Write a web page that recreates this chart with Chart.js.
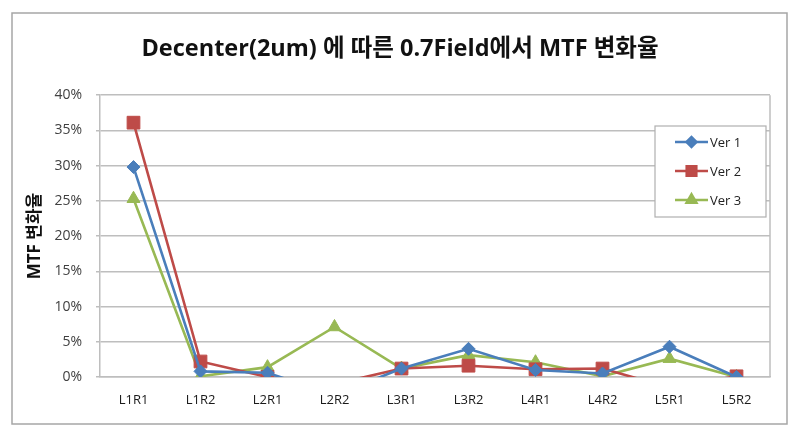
<!DOCTYPE html>
<html>
<head>
<meta charset="utf-8">
<script src="https://cdn.jsdelivr.net/npm/chart.js@4"></script>
<style>
  html, body { margin: 0; padding: 0; background: #fff; }
  #wrap { width: 797px; height: 432px; position: relative; }
</style>
</head>
<body>
<div id="wrap"><canvas id="mtf-chart"></canvas></div>
<script>
/* ===== MTF change vs decenter ===== */

const categories = ['L1R1', 'L1R2', 'L2R1', 'L2R2', 'L3R1', 'L3R2', 'L4R1', 'L4R2', 'L5R1', 'L5R2'];

// values in percent
const ver1 = [29.8, 0.8, 0.6, -2.6, 1.2, 4.0, 1.0, 0.5, 4.3, 0.0];
const ver2 = [36.1, 2.2, 0.0, -1.0, 1.2, 1.6, 1.1, 1.2, -1.5, 0.1];
const ver3 = [25.3, 0.1, 1.4, 7.1, 1.2, 3.1, 2.1, 0.1, 2.6, 0.0];

const yTicks = [0, 5, 10, 15, 20, 25, 30, 35, 40];

const COLORS = {
  blue: '#4A7EBB',
  red: '#BE4B48',
  green: '#98B954',
  grid: '#BEBEBE',
  text: '#404040'
};

const FONT = "'Open Sans', 'Noto Sans CJK KR', sans-serif";

function series(label, data, color, style, radius) {
  return {
    label,
    data,
    borderColor: color,
    backgroundColor: color,
    pointStyle: style,
    pointRadius: radius,
    pointHoverRadius: radius,
    pointBorderWidth: 1,
    borderWidth: 2.6,
    tension: 0
  };
}

// outer frame, plot border and floating legend box
const framePlugin = {
  id: 'frame',
  beforeDraw(chart) {
    const c = chart.ctx;
    c.save();
    c.fillStyle = '#fff';
    c.fillRect(0, 0, chart.width, chart.height);
    c.strokeStyle = '#A6A6A6';
    c.lineWidth = 1.5;
    c.strokeRect(12, 13, 775, 411);
    c.restore();
  },
  afterDatasetsDraw(chart) {
    const c = chart.ctx;
    const a = chart.chartArea;
    c.save();
    c.strokeStyle = '#BEBEBE';
    c.lineWidth = 1.5;
    c.beginPath();
    c.moveTo(a.right, a.top);
    c.lineTo(a.right, a.bottom);
    c.stroke();

    // legend
    const box = { x: 655, y: 126, w: 111, h: 91 };
    c.fillStyle = '#fff';
    c.fillRect(box.x, box.y, box.w, box.h);
    c.strokeStyle = '#B0B0B0';
    c.lineWidth = 1.2;
    c.strokeRect(box.x, box.y, box.w, box.h);
    const rows = [142, 171, 200];
    chart.data.datasets.forEach((ds, i) => {
      const y = rows[i];
      c.strokeStyle = ds.borderColor;
      c.lineWidth = 2.6;
      c.beginPath();
      c.moveTo(675, y);
      c.lineTo(708, y);
      c.stroke();
      Chart.helpers.drawPoint(c, {
        pointStyle: ds.pointStyle,
        radius: ds.pointRadius * 0.75,
        borderWidth: 1
      }, 691.5, y);
      c.fillStyle = ds.borderColor;
      c.fill();
      c.fillStyle = '#222';
      c.font = '13px ' + FONT;
      c.textBaseline = 'middle';
      c.textAlign = 'left';
      c.fillText(ds.label, 710, y + 1);
    });
    c.restore();
  }
};

const ctx = document.getElementById('mtf-chart').getContext('2d');

new Chart(ctx, {
  type: 'line',
  data: {
    labels: categories,
    datasets: [
      series('Ver 1', ver1, COLORS.blue, 'rectRot', 6.5),
      series('Ver 2', ver2, COLORS.red, 'rect', 9),
      series('Ver 3', ver3, COLORS.green, 'triangle', 7.5)
    ]
  },
  options: {
    responsive: true,
    maintainAspectRatio: false,
    animation: false,
    events: [],
    layout: { padding: { left: 30, right: 27, top: 0, bottom: 0 } },
    plugins: {
      legend: { display: false },
      tooltip: { enabled: false },
      title: {
        display: true,
        text: 'Decenter(2um) 에 따른 0.7Field에서 MTF 변화율',
        color: '#111',
        font: { family: FONT, size: 23.5, weight: 'bold', lineHeight: 1.2 },
        padding: { top: 35, bottom: 32 }
      }
    },
    scales: {
      x: {
        offset: true,
        grid: { display: false, drawTicks: false, offset: true },
        border: { display: true, color: COLORS.grid, width: 1.5 },
        ticks: {
          color: '#1a1a1a',
          font: { family: FONT, size: 13 },
          padding: 15,
          maxRotation: 0
        },
        afterFit(scale) { scale.height = 55; }
      },
      y: {
        min: 0,
        max: 40,
        afterBuildTicks(scale) { scale.ticks = yTicks.map(v => ({ value: v })); },
        grid: { color: COLORS.grid, lineWidth: 1.5, tickLength: 4 },
        border: { display: true, color: COLORS.grid, width: 1.5 },
        ticks: {
          color: COLORS.text,
          font: { family: FONT, size: 14 },
          padding: 14,
          callback: v => v + '%'
        },
        title: {
          display: true,
          text: 'MTF 변화율',
          color: '#111',
          font: { family: FONT, size: 17, weight: 'bold' },
          padding: { top: -5, bottom: 6 }
        },
        afterFit(scale) { scale.width = 70; }
      }
    }
  },
  plugins: [framePlugin]
});
</script>
</body>
</html>
